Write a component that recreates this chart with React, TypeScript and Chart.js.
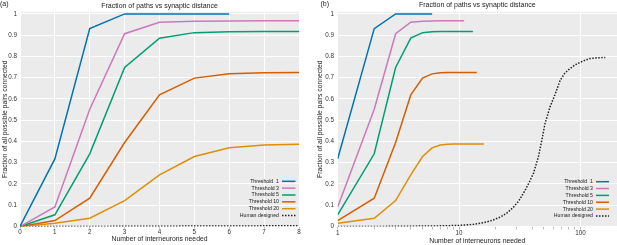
import React, { useEffect, useRef } from "react";
import { Chart, registerables } from "chart.js";

Chart.register(...registerables);

const FONT = '"Liberation Sans", Arial, Helvetica, sans-serif';

// ---- data ----
const interneurons = [0, 1, 2, 3, 4, 5, 6, 7, 8, 9, 10, 11, 12, 13, 14, 15, 16];
const threshold1 = [0, 0.318, 0.931, 1.0, 1.0, 1.0, 1.0];
const threshold3 = [0, 0.092, 0.552, 0.907, 0.961, 0.966, 0.967, 0.968, 0.968, 0.968, 0.968, 0.968];
const threshold5 = [0, 0.055, 0.342, 0.748, 0.886, 0.912, 0.916, 0.917, 0.917, 0.917, 0.917, 0.917, 0.917, 0.917];
const threshold10 = [0, 0.028, 0.133, 0.395, 0.619, 0.698, 0.718, 0.723, 0.725, 0.725, 0.725, 0.725, 0.725, 0.725, 0.725];
const threshold20 = [0, 0.015, 0.039, 0.122, 0.243, 0.329, 0.37, 0.383, 0.387, 0.388, 0.388, 0.388, 0.388, 0.388, 0.388, 0.388, 0.388];
const humanX = [0, 1, 2, 3, 5, 7, 10, 13, 16, 19, 22, 25, 28, 31, 35, 38, 41, 45, 48, 51, 56, 62, 68, 74, 80, 90, 100, 110, 120, 140, 160];
const humanY = [0, 0, 0, 0.001, 0.002, 0.003, 0.005, 0.01, 0.018, 0.03, 0.045, 0.065, 0.09, 0.12, 0.17, 0.21, 0.25, 0.327, 0.405, 0.483, 0.561, 0.624, 0.687, 0.72, 0.738, 0.76, 0.773, 0.783, 0.79, 0.794, 0.795];

const seriesLabels = ["Threshold  1", "Threshold 3", "Threshold 5", "Threshold 10", "Threshold 20", "Human designed"];
const seriesColors = ["#0173B2", "#CC78BC", "#029E73", "#D55E00", "#DE8F05", "#222222"];
const logTickLabels = [1, 10, 100];
const chartTitle = "Fraction of paths vs synaptic distance";
const xTitle = "Number of interneurons needed";
const yTitle = "Fraction of all possible pairs connected";
const panelLabels = ["(a)", "(b)"];

const seriesValues = [threshold1, threshold3, threshold5, threshold10, threshold20];

const isPow10 = (v: number) => {
  const l = Math.log10(v);
  return Math.abs(l - Math.round(l)) < 1e-9;
};

function buildDatasets(logX: boolean) {
  const ds: any[] = seriesValues.map((vals, i) => ({
    label: seriesLabels[i],
    data: vals
      .map((v, k) => ({ x: interneurons[k], y: v }))
      .filter((p) => !logX || p.x > 0),
    borderColor: seriesColors[i],
    backgroundColor: seriesColors[i],
    borderWidth: 1.5,
    borderDash: [],
    pointRadius: 0,
    tension: 0,
    fill: false,
  }));
  ds.push({
    label: seriesLabels[5],
    data: humanX
      .map((x, k) => ({ x, y: humanY[k] }))
      .filter((p) => !logX || p.x > 0),
    borderColor: seriesColors[5],
    backgroundColor: seriesColors[5],
    borderWidth: 1.5,
    borderDash: [1.5, 1.5],
    borderCapStyle: "butt",
    pointRadius: 0,
    tension: 0,
    fill: false,
  });
  return ds;
}

const decorPlugin = {
  id: "decor",
  beforeDraw(chart: any) {
    const { ctx, chartArea: a } = chart;
    ctx.save();
    ctx.fillStyle = "#ebebeb";
    ctx.fillRect(a.left, a.top, a.right - a.left, a.bottom - a.top);
    ctx.restore();
  },
  afterDraw(chart: any, _args: any, opts: any) {
    const { ctx, chartArea: a } = chart;
    ctx.save();
    ctx.fillStyle = "#222";
    ctx.textBaseline = "middle";
    ctx.font = `7px ${FONT}`;
    ctx.textAlign = "center";
    ctx.fillText(opts.title, (a.left + a.right) / 2, opts.titleY);
    ctx.textAlign = "left";
    ctx.fillText(opts.panel, opts.panelX, opts.panelY);
    // legend
    ctx.font = `5.2px ${FONT}`;
    ctx.textAlign = "right";
    chart.data.datasets.forEach((ds: any, i: number) => {
      const y = opts.legendY + i * opts.legendStep;
      ctx.fillStyle = "#222";
      ctx.fillText(ds.label, opts.legendTextRight, y);
      ctx.beginPath();
      ctx.setLineDash(ds.borderDash || []);
      ctx.lineCap = "butt";
      ctx.strokeStyle = ds.borderColor;
      ctx.lineWidth = 1.5;
      ctx.moveTo(opts.legendLineStart, y);
      ctx.lineTo(opts.legendLineEnd, y);
      ctx.stroke();
    });
    ctx.restore();
  },
};

function makeConfig(panel: "a" | "b"): any {
  const logX = panel === "b";
  const tickFont = { size: 6.3, family: FONT };
  const titleFont = { size: 6.8, family: FONT };
  return {
    type: "line",
    data: { datasets: buildDatasets(logX) },
    options: {
      animation: false,
      responsive: false,
      events: [],
      layout: { padding: { top: 11.8, right: logX ? 0 : 6, left: 0, bottom: 0 } },
      plugins: {
        legend: { display: false },
        tooltip: { enabled: false },
        title: { display: false },
        decor: logX
          ? {
              title: chartTitle,
              titleY: 5.5,
              panel: panelLabels[1],
              panelX: 15.5,
              panelY: 4.5,
              legendY: 181.7,
              legendStep: 6.85,
              legendTextRight: 288,
              legendLineStart: 291,
              legendLineEnd: 304,
            }
          : {
              title: chartTitle,
              titleY: 6,
              panel: panelLabels[0],
              panelX: 0,
              panelY: 4.5,
              legendY: 181.3,
              legendStep: 6.85,
              legendTextRight: 279,
              legendLineStart: 282,
              legendLineEnd: 295.5,
            },
      },
      scales: {
        x: logX
          ? {
              type: "logarithmic",
              min: 1,
              max: 200,
              afterBuildTicks: (s: any) => {
                s.ticks = s.ticks.filter((t: any) => {
                  const p = Math.pow(10, Math.floor(Math.log10(t.value) + 1e-9));
                  const r = t.value / p;
                  return Math.abs(r - Math.round(r)) < 1e-9;
                });
              },
              ticks: {
                autoSkip: false,
                maxRotation: 0,
                font: tickFont,
                color: "#333",
                padding: 0,
                callback: (v: any) => (logTickLabels.includes(Number(v)) ? String(v) : ""),
              },
              grid: {
                color: (c: any) => (c.tick && isPow10(c.tick.value) ? "#ffffff" : "rgba(0,0,0,0)"),
                lineWidth: 1,
                drawTicks: true,
                tickLength: 3,
                tickColor: "#aaaaaa",
                tickWidth: 0.8,
              },
              border: { display: false },
              title: { display: true, text: xTitle, font: titleFont, color: "#222", padding: { top: 0, bottom: 0 } },
              afterFit: (s: any) => {
                s.height = 18.5;
              },
            }
          : {
              type: "linear",
              min: 0,
              max: 8,
              ticks: { stepSize: 1, maxRotation: 0, font: tickFont, color: "#333", padding: 0 },
              grid: { color: "#ffffff", lineWidth: 1, drawTicks: true, tickLength: 2, tickColor: "#aaaaaa", tickWidth: 0.8 },
              border: { display: false },
              title: { display: true, text: xTitle, font: titleFont, color: "#222", padding: { top: 0, bottom: 1.4 } },
              afterFit: (s: any) => {
                s.height = 18.5;
              },
            },
        y: {
          type: "linear",
          min: 0,
          max: 1.01,
          ticks: {
            stepSize: 0.1,
            includeBounds: false,
            font: tickFont,
            color: "#333",
            padding: logX ? 3.7 : 3,
            callback: (v: any) => String(Math.round(Number(v) * 10) / 10),
          },
          grid: { color: "#ffffff", lineWidth: 1, drawTicks: false },
          border: { display: false },
          title: {
            display: true,
            text: yTitle,
            font: titleFont,
            color: "#222",
            padding: { top: logX ? 11 : 1, bottom: 0 },
          },
          afterFit: (s: any) => {
            s.width = logX ? 32.7 : 20;
          },
        },
      },
    },
    plugins: [decorPlugin],
  };
}

function Panel({ panel, left, width }: { panel: "a" | "b"; left: number; width: number }) {
  const ref = useRef<HTMLCanvasElement | null>(null);
  useEffect(() => {
    if (!ref.current) return;
    const chart = new Chart(ref.current, makeConfig(panel));
    return () => chart.destroy();
  }, [panel]);
  return (
    <canvas
      ref={ref}
      width={width}
      height={245}
      style={{ position: "absolute", left, top: 0, width, height: 245, display: "block" }}
    />
  );
}

export default function App() {
  return (
    <div style={{ position: "fixed", left: 0, top: 0, width: 617, height: 245, background: "#fff", overflow: "hidden" }}>
      <Panel panel="a" left={0} width={305} />
      <Panel panel="b" left={305} width={312} />
    </div>
  );
}
